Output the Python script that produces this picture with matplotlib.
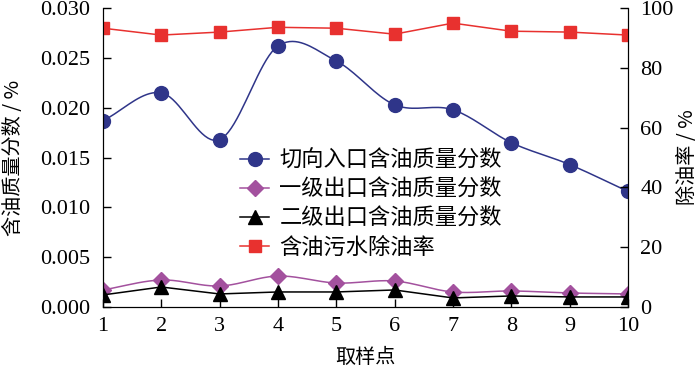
import matplotlib
matplotlib.use("Agg")
import matplotlib.pyplot as plt
import numpy as np

plt.rcParams["font.family"] = ["Liberation Serif", "Noto Sans CJK SC"]

points = [1, 2, 3, 4, 5, 6, 7, 8, 9, 10]
inlet = [0.0187, 0.0215, 0.0168, 0.0262, 0.0247, 0.0203, 0.0198, 0.0165, 0.0143, 0.0116]
stage1 = [0.0017, 0.0027, 0.0021, 0.0031, 0.0024, 0.0026, 0.0015, 0.0016, 0.0014, 0.0013]
stage2 = [0.0012, 0.0020, 0.0013, 0.0015, 0.0015, 0.0017, 0.0009, 0.0011, 0.0010, 0.0010]
removal = [93.3, 91.0, 92.0, 93.6, 93.3, 91.3, 95.0, 92.3, 92.0, 91.0]

names = ["切向入口含油质量分数", "一级出口含油质量分数", "二级出口含油质量分数", "含油污水除油率"]


def smooth(x, y, n=20):
    # Catmull-Rom curve through the points, for drawing only
    x = np.asarray(x, float); y = np.asarray(y, float)
    px = np.concatenate([[2 * x[0] - x[1]], x, [2 * x[-1] - x[-2]]])
    py = np.concatenate([[2 * y[0] - y[1]], y, [2 * y[-1] - y[-2]]])
    xs, ys = [], []
    t = np.linspace(0, 1, n, endpoint=False)
    for i in range(1, len(px) - 2):
        for arr, out in ((px, xs), (py, ys)):
            p0, p1, p2, p3 = arr[i - 1], arr[i], arr[i + 1], arr[i + 2]
            out.extend(0.5 * (2 * p1 + (-p0 + p2) * t + (2 * p0 - 5 * p1 + 4 * p2 - p3) * t ** 2
                              + (-p0 + 3 * p1 - 3 * p2 + p3) * t ** 3))
    xs.append(x[-1]); ys.append(y[-1])
    return np.array(xs), np.array(ys)


fig = plt.figure(figsize=(7, 3.72), dpi=100)
ax = fig.add_axes([0.147, 0.175, 0.75, 0.803])
ax2 = ax.twinx()

blue, purple, red = "#2f3589", "#a3519e", "#e8312f"

sx, sy = smooth(points, inlet)
ax.plot(sx, sy, color=blue, lw=1.1)
ax.plot(points, inlet, "o", color=blue, ms=10)
sx, sy = smooth(points, stage1)
ax.plot(sx, sy, color=purple, lw=1.1)
ax.plot(points, stage1, "D", color=purple, ms=8)
ax.plot(points, stage2, "-^", color="black", lw=1.1, ms=10)
ax2.plot(points, removal, "-s", color=red, lw=1.1, ms=9)

handles = [
    plt.Line2D([], [], color=blue, marker="o", ms=10, lw=1.1),
    plt.Line2D([], [], color=purple, marker="D", ms=8, lw=1.1),
    plt.Line2D([], [], color="black", marker="^", ms=10, lw=1.1),
    plt.Line2D([], [], color=red, marker="s", ms=9, lw=1.1),
]
ax.legend(handles, names, loc="upper left", bbox_to_anchor=(0.262, 0.53), frameon=False,
          prop={"family": "Noto Sans CJK SC", "size": 16}, handlelength=1.3,
          labelspacing=0.28, handletextpad=0.45, borderaxespad=0, borderpad=0)

ax.set_xlim(1, 10)
ax.set_ylim(0, 0.030)
ax2.set_ylim(0, 100)
ax.set_xticks(points)
ax.set_yticks(np.arange(0, 0.0301, 0.005))
ax.set_yticklabels([f"{v:.3f}" for v in np.arange(0, 0.0301, 0.005)])
ax2.set_yticks(range(0, 101, 20))

for a in (ax, ax2):
    a.spines["top"].set_visible(False)
    a.tick_params(direction="in", length=6, width=1, labelsize=16, pad=9)
ax.tick_params(axis="x", pad=7)

ax.set_xlabel("取样点", fontsize=14.5, family=["Noto Sans CJK SC"], labelpad=8)
ax.set_ylabel("含油质量分数 / %", fontsize=14.5, family=["Noto Sans CJK SC", "Liberation Serif"], labelpad=12)
ax2.set_ylabel("除油率 / %", fontsize=14.5, family=["Noto Sans CJK SC", "Liberation Serif"], labelpad=2)

fig.savefig("out.png", dpi=100)
